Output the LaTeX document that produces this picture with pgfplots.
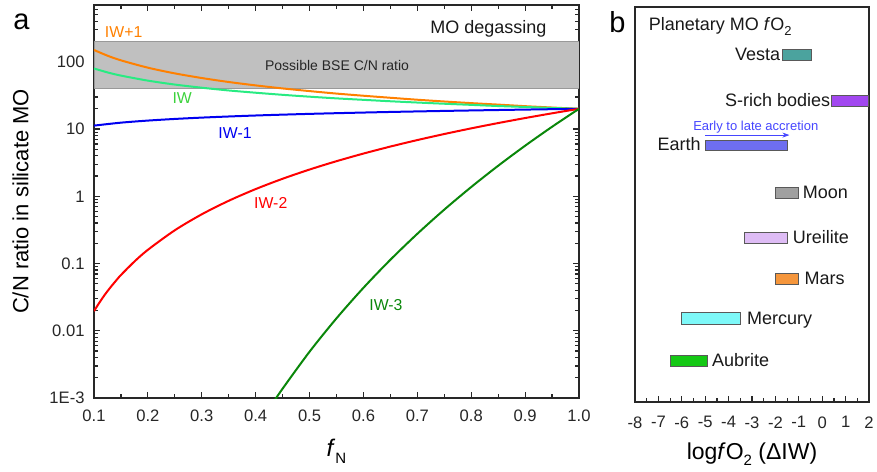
\documentclass[border=0pt]{standalone}
\usepackage{fontspec}
\setmainfont{Liberation Sans}
\usepackage{pgfplots}
\pgfplotsset{compat=1.18}
\usetikzlibrary{arrows.meta}

\definecolor{cIWp}{RGB}{255,128,0}
\definecolor{cIW}{RGB}{40,235,130}
\definecolor{cIWtxt}{RGB}{60,210,60}
\definecolor{cIWmA}{RGB}{0,0,240}
\definecolor{cIWmB}{RGB}{255,0,0}
\definecolor{cIWmC}{RGB}{10,135,10}
\definecolor{bandgray}{RGB}{192,192,192}
\definecolor{axisgray}{RGB}{40,40,40}
\definecolor{cVesta}{RGB}{75,163,158}
\definecolor{cSrich}{RGB}{162,72,240}
\definecolor{cEarth}{RGB}{110,110,240}
\definecolor{cMoon}{RGB}{160,160,160}
\definecolor{cUreil}{RGB}{222,188,245}
\definecolor{cMars}{RGB}{245,150,60}
\definecolor{cMerc}{RGB}{125,248,248}
\definecolor{cAubr}{RGB}{20,200,20}
\definecolor{cArrow}{RGB}{70,70,255}

\newcommand{\tickfont}{\fontsize{8.3}{10}\selectfont}

\tikzset{
  bar/.style={draw=black!65, line width=0.5pt},
  lab/.style={font=\fontsize{9}{11}\selectfont, text=black!90},
}

\pgfplotsset{
  panel/.style={
    scale only axis,
    axis line style={line width=0.8pt, axisgray},
    every tick/.style={line width=0.6pt, axisgray},
    major tick length=3pt,
    minor tick length=2pt,
    tick label style={font=\tickfont, text=black!85},
  },
}

\begin{document}
\begin{tikzpicture}
\path[use as bounding box] (0,0) rectangle (438.5pt,235.5pt);

% panel a
\begin{axis}[panel,
  at={(47pt,36.5pt)}, anchor=south west,
  width=242.5pt, height=196.5pt,
  xmin=0.1, xmax=1.0,
  ymode=log, ymin=0.001, ymax=700,
  xtick={0.1,0.2,0.3,0.4,0.5,0.6,0.7,0.8,0.9,1.0},
  xticklabels={0.1,0.2,0.3,0.4,0.5,0.6,0.7,0.8,0.9,1.0},
  minor x tick num=1,
  ytick={0.001,0.01,0.1,1,10,100},
  yticklabels={1E-3,0.01,0.1,1,10,100},
  minor ytick={0.002,0.003,0.004,0.005,0.006,0.007,0.008,0.009,
               0.02,0.03,0.04,0.05,0.06,0.07,0.08,0.09,
               0.2,0.3,0.4,0.5,0.6,0.7,0.8,0.9,
               2,3,4,5,6,7,8,9,20,30,40,50,60,70,80,90,
               200,300,400,500,600,700},
  xticklabel style={yshift=-2.2pt},
  yticklabel style={xshift=-1.2pt},
  xlabel={\textit{f}\raisebox{-3.2pt}{\fontsize{7.5}{9}\selectfont N}},
  ylabel={C/N ratio in silicate MO},
  every axis x label/.style={at={(axis description cs:0.5,-0.1494)}, anchor=base, font=\fontsize{12}{14}\selectfont},
  every axis y label/.style={at={(axis description cs:-0.1355,0.5)}, anchor=base, rotate=90, font=\fontsize{11}{13}\selectfont},
]
\addplot[fill=bandgray, draw=black!40, line width=0.4pt] coordinates {(0.1,40) (1.0,40) (1.0,200) (0.1,200)} -- cycle;

% IW+1
\addplot[cIWp, line width=1pt, smooth] coordinates {
(0.10,150.0) (0.125,123.4) (0.15,105.2) (0.20,81.8) (0.25,67.3) (0.30,57.4) (0.35,50.1) (0.40,44.6)
(0.45,40.2) (0.50,36.7) (0.55,33.7) (0.60,31.3) (0.65,29.2) (0.70,27.3) (0.75,25.7)
(0.80,24.3) (0.85,23.1) (0.90,21.9) (0.95,20.9) (1.00,20.0)};
% IW
\addplot[cIW, line width=1pt, smooth] coordinates {
(0.10,79.6) (0.125,69.6) (0.15,62.4) (0.20,52.5) (0.25,45.9) (0.30,41.2) (0.35,37.5) (0.40,34.7)
(0.45,32.3) (0.50,30.3) (0.55,28.6) (0.60,27.2) (0.65,25.9) (0.70,24.8) (0.75,23.8)
(0.80,22.9) (0.85,22.0) (0.90,21.3) (0.95,20.6) (1.00,20.0)};
% IW-1
\addplot[cIWmA, line width=1pt, smooth] coordinates {
(0.10,11.25) (0.15,12.45) (0.20,13.37) (0.25,14.14) (0.30,14.80) (0.35,15.38) (0.40,15.91)
(0.45,16.38) (0.50,16.82) (0.55,17.22) (0.60,17.60) (0.65,17.96) (0.70,18.29) (0.75,18.61)
(0.80,18.91) (0.85,19.20) (0.90,19.48) (0.95,19.75) (1.00,20.0)};
% IW-2
\addplot[cIWmB, line width=1pt, smooth] coordinates {
(0.10,0.0196) (0.11,0.0262) (0.12,0.0343) (0.13,0.0437) (0.14,0.0546) (0.15,0.0675)
(0.175,0.107) (0.20,0.160) (0.25,0.3125) (0.30,0.540) (0.35,0.8575) (0.40,1.28)
(0.45,1.8225) (0.50,2.50) (0.55,3.3275) (0.60,4.32) (0.65,5.4925) (0.70,6.86) (0.75,8.4375)
(0.80,10.24) (0.85,12.28) (0.90,14.58) (0.95,17.15) (1.00,20.0)};
% IW-3
\addplot[cIWmC, line width=1pt, smooth] coordinates {
(0.43,0.000798) (0.45,0.001378) (0.50,0.004883) (0.55,0.01532) (0.60,0.04354) (0.65,0.1138)
(0.70,0.2768) (0.75,0.6335) (0.80,1.374) (0.85,2.845) (0.90,5.649) (0.95,10.81) (1.00,20.0)};

\node[anchor=base, font=\fontsize{7.9}{9}\selectfont, text=cIWp] at (axis cs:0.155,232) {IW+1};
\node[anchor=base, font=\fontsize{7.9}{9}\selectfont, text=cIWtxt] at (axis cs:0.2637,24.0) {IW};
\node[anchor=base, font=\fontsize{7.9}{9}\selectfont, text=cIWmA] at (axis cs:0.3617,7.28) {IW-1};
\node[anchor=base, font=\fontsize{7.9}{9}\selectfont, text=cIWmB] at (axis cs:0.428,0.664) {IW-2};
\node[anchor=base, font=\fontsize{7.9}{9}\selectfont, text=cIWmC] at (axis cs:0.6418,0.0201) {IW-3};
\node[anchor=base, font=\fontsize{7}{8}\selectfont, text=black!85] at (axis cs:0.551,74.3) {Possible BSE C/N ratio};
\node[anchor=base, font=\fontsize{9}{11}\selectfont, text=black!90] at (axis cs:0.832,266) {MO degassing};
\end{axis}

% panel b
\begin{axis}[panel,
  at={(317.5pt,34.65pt)}, anchor=south west,
  width=117pt, height=197.2pt,
  xmin=-8, xmax=2, ymin=0, ymax=10,
  xtick={-8,-7,-6,-5,-4,-3,-2,-1,0,1,2},
  xticklabels={-8,-7,-6,-5,-4,-3,-2,-1,0,1,2},
  minor x tick num=1,
  xtick pos=left,
  ytick=\empty,
  xticklabel style={yshift=-3.9pt},
  xlabel={log\textit{f}O\raisebox{-3pt}{\fontsize{7.5}{9}\selectfont 2} (ΔIW)},
  every axis x label/.style={at={(axis description cs:0.5,-0.1478)}, anchor=base, font=\fontsize{11.5}{13}\selectfont},
]
\addplot[bar, fill=cVesta] coordinates {(-1.7,8.66) (-0.45,8.66) (-0.45,8.94) (-1.7,8.94)} -- cycle;
\addplot[bar, fill=cSrich] coordinates {(0.4,7.49) (1.97,7.49) (1.97,7.77) (0.4,7.77)} -- cycle;
\addplot[bar, fill=cEarth] coordinates {(-5.0,6.36) (-1.5,6.36) (-1.5,6.63) (-5.0,6.63)} -- cycle;
\addplot[bar, fill=cMoon] coordinates {(-2.0,5.14) (-1.0,5.14) (-1.0,5.42) (-2.0,5.42)} -- cycle;
\addplot[bar, fill=cUreil] coordinates {(-3.3,4.01) (-1.5,4.01) (-1.5,4.29) (-3.3,4.29)} -- cycle;
\addplot[bar, fill=cMars] coordinates {(-2.0,2.98) (-1.0,2.98) (-1.0,3.25) (-2.0,3.25)} -- cycle;
\addplot[bar, fill=cMerc] coordinates {(-6.0,1.97) (-3.5,1.97) (-3.5,2.25) (-6.0,2.25)} -- cycle;
\addplot[bar, fill=cAubr] coordinates {(-6.5,0.90) (-4.9,0.90) (-4.9,1.18) (-6.5,1.18)} -- cycle;

\node[lab, anchor=base west] at (axis cs:-7.71,9.42) {Planetary MO \textit{f}O\raisebox{-2.5pt}{\fontsize{6.5}{8}\selectfont 2}};
\node[lab, anchor=base east, inner sep=0pt] at (axis cs:-1.78,8.66) {Vesta};
\node[lab, anchor=base east, inner sep=0pt] at (axis cs:0.36,7.49) {S-rich bodies};
\node[lab, anchor=base east, inner sep=0pt] at (axis cs:-5.18,6.36) {Earth};
\node[lab, anchor=base west, inner sep=0pt] at (axis cs:-0.84,5.14) {Moon};
\node[lab, anchor=base west, inner sep=0pt] at (axis cs:-1.27,4.01) {Ureilite};
\node[lab, anchor=base west, inner sep=0pt] at (axis cs:-0.77,2.98) {Mars};
\node[lab, anchor=base west, inner sep=0pt] at (axis cs:-3.23,1.97) {Mercury};
\node[lab, anchor=base west, inner sep=0pt] at (axis cs:-4.72,0.90) {Aubrite};

\draw[cArrow, line width=0.5pt, -{Stealth[length=3.5pt, width=2.5pt]}] (axis cs:-5.0,6.76) -- (axis cs:-1.4,6.76);
\node[anchor=base, font=\fontsize{6.5}{8}\selectfont, text=cArrow] at (axis cs:-2.84,6.88) {Early to late accretion};
\end{axis}

\node[anchor=base, font=\fontsize{14.5}{16}\selectfont] at (10.75pt,220.5pt) {a};
\node[anchor=base, font=\fontsize{14.5}{16}\selectfont] at (308.75pt,219pt) {b};
\end{tikzpicture}
\end{document}
